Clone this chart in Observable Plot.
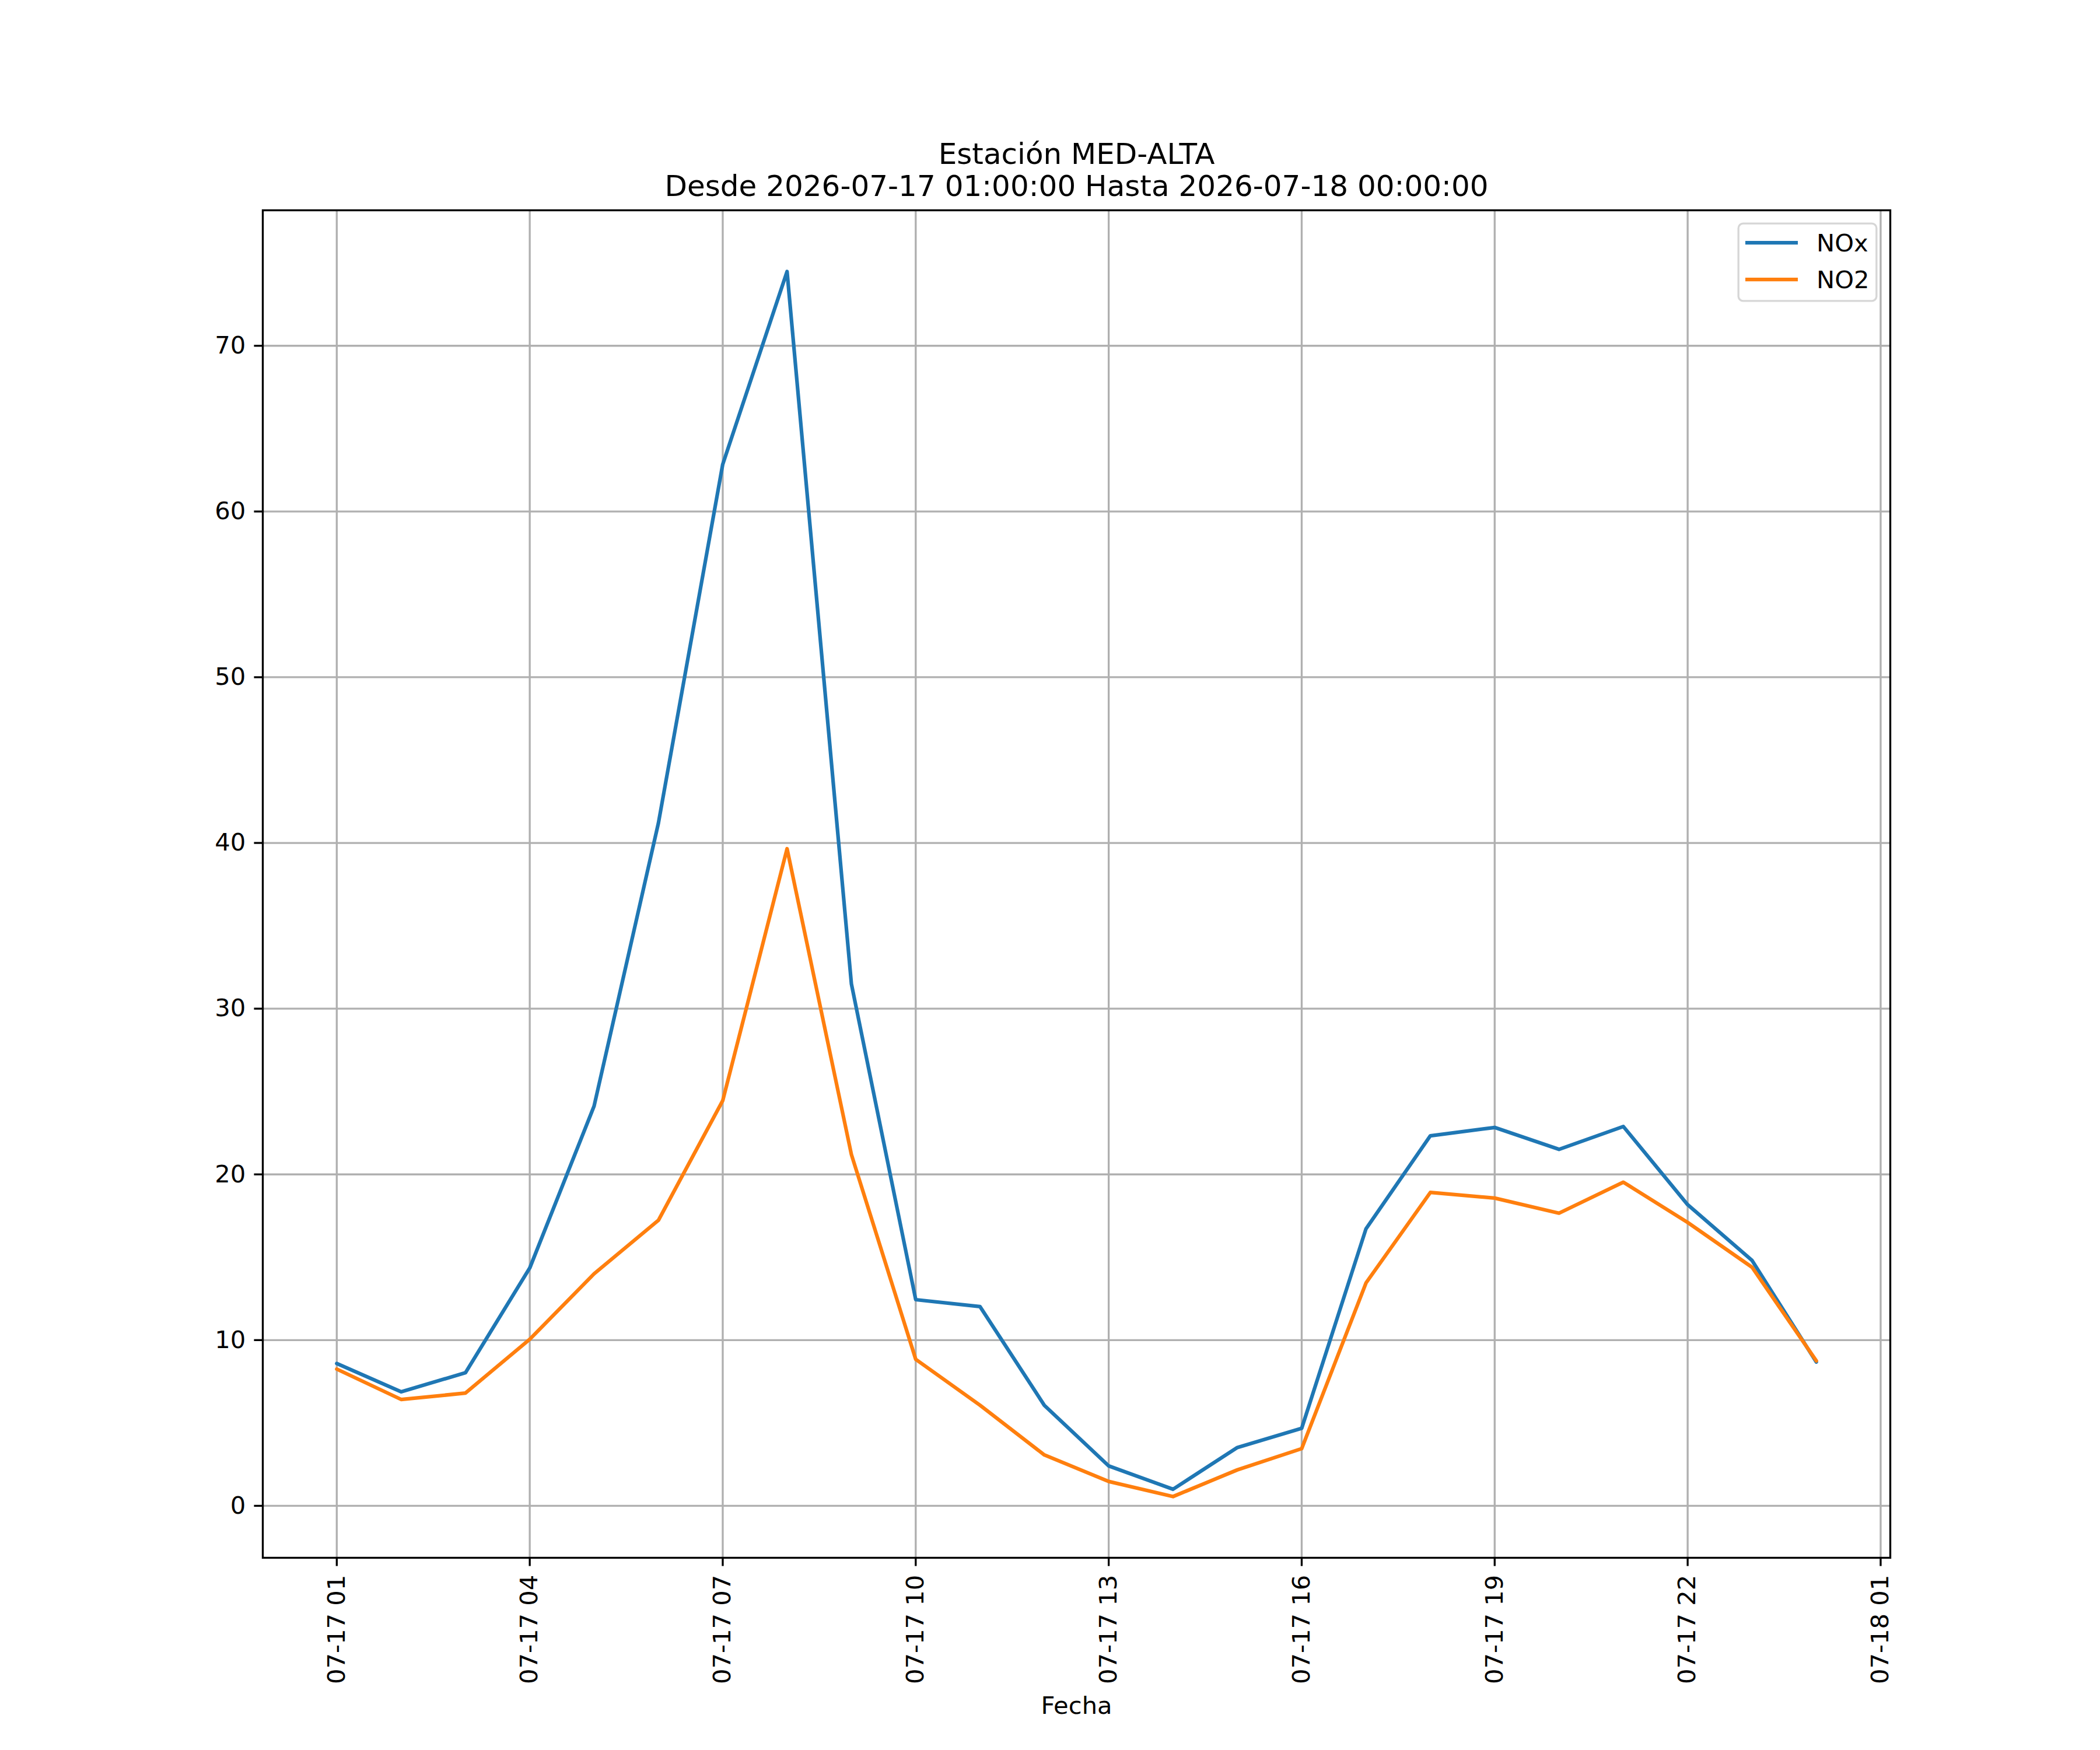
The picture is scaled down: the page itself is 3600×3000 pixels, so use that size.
<!DOCTYPE html>
<html>
<head>
<meta charset="utf-8">
<script src="https://cdn.jsdelivr.net/npm/d3@7"></script>
<script src="https://cdn.jsdelivr.net/npm/@observablehq/plot@0.6"></script>
<style>
  html, body { margin: 0; padding: 0; background: #ffffff; }
  #wrap { position: relative; width: 3600px; height: 3000px; font-family: "DejaVu Sans", sans-serif; color: #000; }
  #legend { position: absolute; left: 2978px; top: 381px; }
</style>
</head>
<body>
<div id="wrap"></div>
<script>
// ---- data ----
const times = [
  "2026-07-17T01:00Z","2026-07-17T02:00Z","2026-07-17T03:00Z","2026-07-17T04:00Z",
  "2026-07-17T05:00Z","2026-07-17T06:00Z","2026-07-17T07:00Z","2026-07-17T08:00Z",
  "2026-07-17T09:00Z","2026-07-17T10:00Z","2026-07-17T11:00Z","2026-07-17T12:00Z",
  "2026-07-17T13:00Z","2026-07-17T14:00Z","2026-07-17T15:00Z","2026-07-17T16:00Z",
  "2026-07-17T17:00Z","2026-07-17T18:00Z","2026-07-17T19:00Z","2026-07-17T20:00Z",
  "2026-07-17T21:00Z","2026-07-17T22:00Z","2026-07-17T23:00Z","2026-07-18T00:00Z"
];
const NOx = [8.59, 6.88, 8.03, 14.35, 24.12, 41.2, 62.85, 74.48, 31.5, 12.44, 12.02, 6.06,
             2.41, 1.0, 3.52, 4.68, 16.72, 22.33, 22.83, 21.51, 22.89, 18.17, 14.81, 8.68];
const NO2 = [8.25, 6.42, 6.8, 10.05, 14.0, 17.23, 24.45, 39.65, 21.2, 8.84, 6.07, 3.07,
             1.47, 0.56, 2.17, 3.45, 13.45, 18.91, 18.57, 17.66, 19.53, 17.1, 14.4, 8.75];
const seriesNames = ["NOx", "NO2"];
const seriesColors = ["#1f77b4", "#ff7f0e"];
const xTicks = [
  "2026-07-17T01:00Z","2026-07-17T04:00Z","2026-07-17T07:00Z","2026-07-17T10:00Z",
  "2026-07-17T13:00Z","2026-07-17T16:00Z","2026-07-17T19:00Z","2026-07-17T22:00Z",
  "2026-07-18T01:00Z"
];
const yTicks = [0, 10, 20, 30, 40, 50, 60, 70];
const titleText = "Estación MED-ALTA\nDesde 2026-07-17 01:00:00 Hasta 2026-07-18 00:00:00";
const xLabelText = "Fecha";

// ---- build tables ----
const tDates = times.map(s => new Date(s));
const rowsNOx = tDates.map((t, i) => ({t, v: NOx[i], s: "NOx"}));
const rowsNO2 = tDates.map((t, i) => ({t, v: NO2[i], s: "NO2"}));
const tickDates = xTicks.map(s => new Date(s));

// matplotlib-like 5% autoscale margins
const tMin = +tDates[0], tMax = +tDates[tDates.length - 1];
const tPad = (tMax - tMin) * 0.05;
const allV = NOx.concat(NO2);
const vMin = d3.min(allV), vMax = d3.max(allV);
const vPad = (vMax - vMin) * 0.05;

const PT = 300 / 72;          // px per point (300 dpi)
const fs10 = 10 * PT, fs12 = 12 * PT;
const lw = 1.5 * PT, gw = 0.8 * PT, tk = 3.5 * PT;

const fmt = d3.utcFormat("%m-%d %H");

const chart = Plot.plot({
  width: 3600,
  height: 3000,
  marginLeft: 450,
  marginRight: 360,
  marginTop: 360,
  marginBottom: 330,
  style: {fontFamily: "DejaVu Sans, sans-serif", background: "#ffffff", color: "#000000"},
  x: {type: "utc", domain: [new Date(tMin - tPad), new Date(tMax + tPad)]},
  y: {domain: [vMin - vPad, vMax + vPad]},
  marks: [
    Plot.gridX(tickDates, {stroke: "#b0b0b0", strokeOpacity: 1, strokeWidth: gw}),
    Plot.gridY(yTicks, {stroke: "#b0b0b0", strokeOpacity: 1, strokeWidth: gw}),
    Plot.line(rowsNOx, {x: "t", y: "v", stroke: seriesColors[0], strokeWidth: lw}),
    Plot.line(rowsNO2, {x: "t", y: "v", stroke: seriesColors[1], strokeWidth: lw}),
    Plot.frame({stroke: "#000000", strokeWidth: gw}),
    Plot.axisX(tickDates, {tickFormat: fmt, tickRotate: -90, tickSize: tk, tickPadding: tk,
      fontSize: fs10, label: null, stroke: "#000000", strokeWidth: gw}),
    Plot.axisY(yTicks, {tickSize: tk, tickPadding: tk, fontSize: fs10, label: null,
      stroke: "#000000", strokeWidth: gw}),
    Plot.text([titleText], {text: d => d, frameAnchor: "top", lineAnchor: "bottom",
      lineHeight: 1.1, dy: -25, fontSize: fs12, fill: "#000000"}),
    Plot.text([xLabelText], {text: d => d, frameAnchor: "bottom", lineAnchor: "bottom",
      dy: 267, fontSize: fs10, fill: "#000000"})
  ]
});

const wrap = document.getElementById("wrap");
wrap.appendChild(chart);

// ---- legend (matplotlib-style box, upper right) ----
const W = 241, H = 137;
const lg = d3.create("svg").attr("id", "legend").attr("width", W).attr("height", H)
  .attr("font-family", "DejaVu Sans, sans-serif");
lg.append("rect").attr("x", gw / 2 + 0.5).attr("y", gw / 2 + 0.5)
  .attr("width", W - gw - 1).attr("height", H - gw - 1)
  .attr("rx", 8).attr("ry", 8)
  .attr("fill", "#ffffff").attr("fill-opacity", 0.8)
  .attr("stroke", "#cccccc").attr("stroke-opacity", 0.8).attr("stroke-width", gw);
seriesNames.forEach((name, i) => {
  const cy = 35 + i * 63;
  lg.append("line").attr("x1", 14).attr("x2", 104).attr("y1", cy).attr("y2", cy)
    .attr("stroke", seriesColors[i]).attr("stroke-width", lw);
  lg.append("text").attr("x", 136).attr("y", cy + 14.5).attr("font-size", fs10)
    .attr("fill", "#000000").text(name);
});
wrap.appendChild(lg.node());
</script>
</body>
</html>
